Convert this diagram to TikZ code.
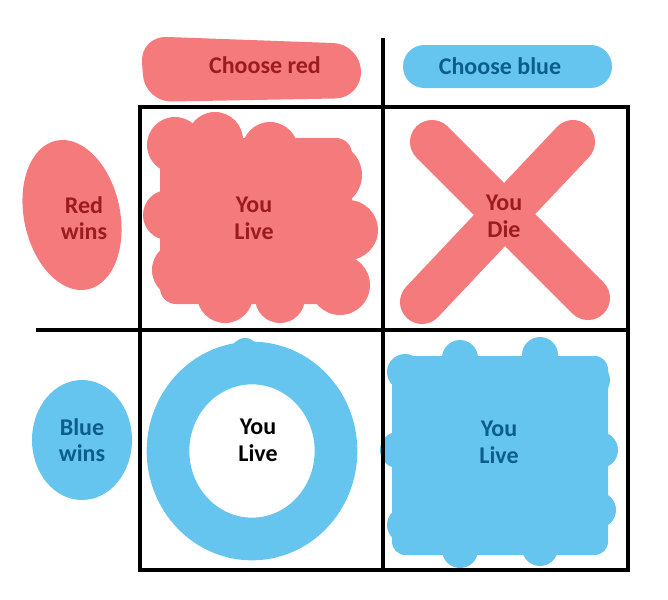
\documentclass[tikz,border=0pt]{standalone}
\usepackage{fontspec}
\setmainfont{Carlito}
\definecolor{rd}{HTML}{F47A7C}
\definecolor{bl}{HTML}{66C5EF}
\definecolor{rdt}{HTML}{9B1B1F}
\definecolor{blt}{HTML}{0B5E8A}
\begin{document}
\begin{tikzpicture}[x=0.75pt,y=-0.75pt,
  lbl/.style={font=\bfseries\fontsize{18}{20}\selectfont,align=center},
  grid/.style={line width=3pt,black}]
\useasboundingbox (0,0) rectangle (668,600);
% header blobs
\fill[rd,rounded corners=20pt] (140,36) -- (360,44) -- (362,98) -- (145,102) -- cycle;
\fill[bl,rounded corners=16pt] (403,45) rectangle (612,88);
% side blobs
\fill[rd,rotate around={12:(72,215)}] (72,215) ellipse (48 and 76);
\fill[bl] (82,440) ellipse (50 and 60);
% top-left cloud
\fill[rd] (175,145) circle (28) (215,140) circle (28) (270,150) circle (28) (330,175) circle (32)
 (348,230) circle (30) (340,285) circle (30) (280,298) circle (25) (225,295) circle (28)
 (180,270) circle (28) (168,215) circle (25);
\fill[rd,rounded corners=12pt] (160,138) rectangle (352,304);
% X
\draw[rd,line width=33pt,line cap=round] (432,142) -- (588,298);
\draw[rd,line width=33pt,line cap=round] (573,142) -- (422,302);
% ring
\draw[bl,line width=32pt] (252,451) ellipse (84 and 88);
\fill[bl] (245,352) circle (14);
% bottom-right cloud
\fill[bl] (405,372) circle (18) (460,358) circle (18) (540,355) circle (18) (592,380) circle (18)
 (600,450) circle (18) (598,510) circle (18) (540,548) circle (18) (460,550) circle (18)
 (405,525) circle (18) (398,450) circle (18);
\fill[bl,rounded corners=10pt] (392,356) rectangle (608,555);
% grid
\draw[grid] (140,107) rectangle (628,570);
\draw[grid] (383,38) -- (383,570);
\draw[grid] (36,330) -- (628,330);
% labels
\node[lbl,text=rdt] (cr) at (265,65) {Choose red};
\node[lbl,text=blt] (cb) at (500,66) {Choose blue};
\node[lbl,text=rdt] (rw) at (84,218) {Red\\wins};
\node[lbl,text=blt] (bw) at (82,440) {Blue\\wins};
\node[lbl,text=rdt] (tl) at (254,218) {You\\Live};
\node[lbl,text=rdt] (tr) at (504,216) {You\\Die};
\node[lbl,text=black] (bl) at (258,440) {You\\Live};
\node[lbl,text=blt] (br) at (499,442) {You\\Live};
\end{tikzpicture}
\end{document}
